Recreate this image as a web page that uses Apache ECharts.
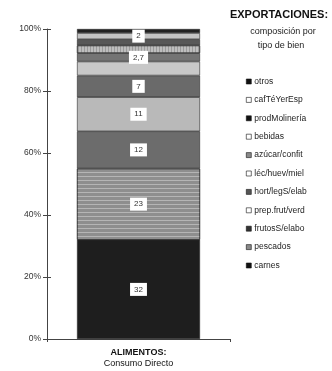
<!DOCTYPE html>
<html><head><meta charset="utf-8">
<script src="https://cdn.jsdelivr.net/npm/echarts@6/dist/echarts.min.js"></script>
<style>html,body{margin:0;padding:0;background:#fff}#c{width:332px;height:371px}</style>
</head><body><div id="c"></div>
<script>
const categories = ['ALIMENTOS:\nConsumo Directo'];
const seriesNames = ['carnes','pescados','frutosS/elabo','prep.frut/verd','hort/legS/elab','léc/huev/miel','azúcar/confit','bebidas','prodMolinería','cafTéYerEsp','otros'];
const seriesValues = [32, 23, 12, 11, 7, 4.5, 2.7, 2.5, 2, 2, 1.3];
const showLabel = [true, true, true, true, true, false, true, false, false, true, false];
const yTicks = ['0%','20%','40%','60%','80%','100%'];

const colors = ['#1e1e1e','#8e8e8e','#6c6c6c','#b9b9b9','#6a6a6a','#c8c8c8','#747474','#bebebe','#585858','#c4c4c4','#222222'];
const legendColors = ['#111','#8a8a8a','#333','#fff','#555','#fff','#8a8a8a','#fff','#111','#fff','#111'];
const decals = {
  1: {symbol:'rect', symbolSize:1, dashArrayX:[1,0], dashArrayY:[1,3], rotation:0, color:'rgba(255,255,255,0.35)'},
  7: {symbol:'rect', symbolSize:1, dashArrayX:[1,2], dashArrayY:[1,0], rotation:0, color:'rgba(90,90,90,0.35)'}
};
function fmt(v){ return String(v).replace('.', ','); }

const series = seriesNames.map((n,i)=>({
  name:n, type:'bar', stack:'t', barWidth:123, data:[seriesValues[i]],
  itemStyle:Object.assign({color:colors[i], borderColor:'#2a2a2a', borderWidth:0.6}, decals[i]?{decal:decals[i]}:{}),
  label:{show:showLabel[i], position:'inside', formatter:()=>fmt(seriesValues[i]), backgroundColor:'#fff',
    color:'#333', fontSize:8, fontFamily:'Liberation Sans', padding:[3,4,2,4]},
  emphasis:{disabled:true}
}));

const chart = echarts.init(document.getElementById('c'));
chart.setOption({
  animation:false,
  textStyle:{fontFamily:'Liberation Sans'},
  title:[
    {text:'EXPORTACIONES:', left:279, top:9, textAlign:'center', padding:0, textStyle:{fontSize:11, fontWeight:'bold', color:'#111', fontFamily:'Liberation Sans'}},
    {text:'composición por', left:283, top:27, textAlign:'center', padding:0, textStyle:{fontSize:9, fontWeight:'normal', color:'#222', fontFamily:'Liberation Sans'}},
    {text:'tipo de bien', left:281, top:41, textAlign:'center', padding:0, textStyle:{fontSize:9, fontWeight:'normal', color:'#222', fontFamily:'Liberation Sans'}}
  ],
  legend:{
    orient:'vertical', left:246, top:76, padding:0, itemWidth:5, itemHeight:5, itemGap:7.4, icon:'rect',
    textStyle:{fontSize:8.5, color:'#222', lineHeight:11, padding:[0,0,0,-2]},
    data: seriesNames.slice().reverse().map((n)=>({name:n, itemStyle:{color:legendColors[seriesNames.indexOf(n)], borderColor:'#111', borderWidth:0.6, decal:'none'}}))
  },
  grid:{left:47, right:102, top:29, bottom:32},
  xAxis:{type:'category', data:categories,
    axisLine:{lineStyle:{color:'#444', width:1}},
    axisTick:{show:true, length:3, lineStyle:{color:'#444'}},
    axisLabel:{margin:8, formatter:(v)=>{const p=v.split('\n'); return '{a|'+p[0]+'}\n{b|'+p[1]+'}';},
      rich:{a:{fontSize:9, fontWeight:'bold', color:'#111', lineHeight:11}, b:{fontSize:9, color:'#111', lineHeight:11}}}
  },
  yAxis:[
    {type:'value', min:0, max:100, interval:20, position:'left',
      axisLine:{show:true, lineStyle:{color:'#444'}}, axisTick:{show:true, length:4, lineStyle:{color:'#444'}},
      splitLine:{show:false},
      axisLabel:{margin:6, fontSize:8.5, color:'#333', formatter:(v)=>yTicks[Math.round(v/20)]}},
    {type:'value', min:0, max:100, interval:20, position:'left',
      axisLine:{show:false}, axisTick:{show:true, inside:true, length:4, lineStyle:{color:'#444'}},
      splitLine:{show:false}, axisLabel:{show:false}}
  ],
  series: series
});
</script></body></html>
